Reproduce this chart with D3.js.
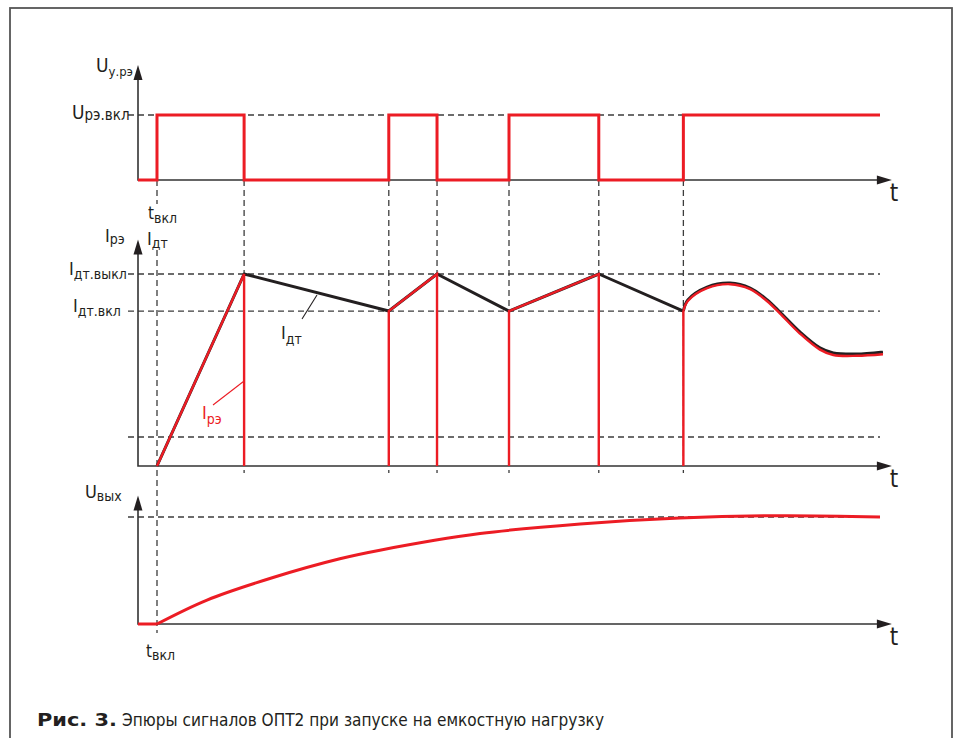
<!DOCTYPE html>
<html>
<head>
<meta charset="utf-8">
<script src="https://cdn.jsdelivr.net/npm/d3@7"></script>
<style>
body { margin: 0; background: #fff; }
text { font-family: "Liberation Sans Narrow", "DejaVu Sans Condensed", "Liberation Sans", sans-serif; fill: #231f20; }
</style>
</head>
<body>
<svg id="chart" width="957" height="738"></svg>
<script>
// relay switching moments (shared time axis, 0..100)
var switchTimes = [2.56, 14.3, 33.8, 40.3, 50.0, 62.1, 73.5];
var relayStates = [1, 0, 1, 0, 1, 0, 1];
var timeEnd = 100;

// current levels: Iдт.выкл, Iдт.вкл, lower dashed level
var currentLevels = [1.0, 0.807, 0.151];

// sensor current Iдт, piecewise part
var idtTime = [2.56, 14.3, 33.8, 40.3, 50.0, 62.1, 73.5];
var idtValue = [0, 1.0, 0.807, 1.0, 0.807, 1.0, 0.807];

// tail after last switch-on (smooth)
var tailTime = [73.5, 74.1, 76.7, 79.8, 82.5, 84.8, 86.5, 89.2, 91.9, 93.7, 96.9, 100.4];
var idtTailValue = [0.807, 0.865, 0.932, 0.953, 0.927, 0.865, 0.802, 0.698, 0.615, 0.589, 0.583, 0.594];
var ireTailValue = [0.807, 0.859, 0.926, 0.947, 0.921, 0.858, 0.795, 0.690, 0.606, 0.578, 0.574, 0.582];

// relay current Iрэ, null = gap
var ireTime = [2.56, 14.3, 14.3, null, 33.8, 33.8, 40.3, 40.3, null, 50.0, 50.0, 62.1, 62.1, null, 73.5, 73.5];
var ireValue = [0, 1.0, 0, null, 0, 0.807, 1.0, 0, null, 0, 0.807, 1.0, 0, null, 0, 0.807];

// output voltage
var uoutTime = [0, 2.56, 9.3, 18.2, 27.2, 32.6, 46.1, 59.6, 73.0, 86.5, 100];
var uoutValue = [0, 0, 0.224, 0.435, 0.61, 0.69, 0.845, 0.935, 0.99, 1.012, 1.0];
var uoutLevel = 1.0;

var RED = "#ec1c24", INK = "#231f20", DASH = "#3c3c3c";

var svg = d3.select("#chart");

// frame
svg.append("rect")
    .attr("x", 10).attr("y", 8)
    .attr("width", 942).attr("height", 760)
    .attr("fill", "none")
    .attr("stroke", "#555")
    .attr("stroke-width", 1.8);

var x = d3.scaleLinear().domain([0, 100]).range([138, 880]);
var y1 = d3.scaleLinear().domain([0, 1]).range([180, 115]);
var y2 = d3.scaleLinear().domain([0, 1]).range([466, 274]);
var y3 = d3.scaleLinear().domain([0, 1]).range([624, 517]);

var dashLine = function(g, x1, y1_, x2, y2_) {
    g.append("line")
        .attr("x1", x1).attr("y1", y1_)
        .attr("x2", x2).attr("y2", y2_)
        .attr("stroke", DASH)
        .attr("stroke-width", 1.3)
        .attr("stroke-dasharray", "6,4");
};

var grid = svg.append("g").attr("class", "grid");

// horizontal dashed levels
dashLine(grid, 128, y1(1), x(100), y1(1));
currentLevels.forEach(function(v) {
    dashLine(grid, 128, y2(v), x(100), y2(v));
});
dashLine(grid, 128, y3(uoutLevel), x(100), y3(uoutLevel));

// vertical dashed at switching moments
switchTimes.forEach(function(t, i) {
    if (i == 0) {
        dashLine(grid, x(t), y1(0), x(t), 204);
        dashLine(grid, x(t), 250, x(t), y3(0) + 9);
    } else {
        dashLine(grid, x(t), y1(0), x(t), y2(0) + 7);
    }
});

// axes with arrows
function axes(yScale, topValue) {
    var g = svg.append("g").attr("class", "axis");
    var x0 = x(0), yb = yScale(0), yt = yScale(topValue), xr = x(101.6);
    g.append("path")
        .attr("d", "M" + x0 + "," + (yt + 10) + "V" + yb + "H" + (xr - 10))
        .attr("fill", "none")
        .attr("stroke", "#333")
        .attr("stroke-width", 1.6);
    g.append("path")
        .attr("d", "M" + x0 + "," + yt + "L" + (x0 - 4.5) + "," + (yt + 15) + "L" + (x0 + 4.5) + "," + (yt + 15) + "Z")
        .attr("fill", INK);
    g.append("path")
        .attr("d", "M" + xr + "," + yb + "L" + (xr - 15) + "," + (yb - 4.5) + "L" + (xr - 15) + "," + (yb + 4.5) + "Z")
        .attr("fill", INK);
    g.append("text")
        .attr("x", xr - 2).attr("y", yb + 21)
        .attr("font-size", 24)
        .text("t");
}
axes(y1, 1.77);
axes(y2, 1.18);
axes(y3, 1.2);

// panel 1: relay control voltage
var relayPts = [[0, 0]];
switchTimes.forEach(function(t, i) {
    relayPts.push([t, 1 - relayStates[i]]);
    relayPts.push([t, relayStates[i]]);
});
relayPts.push([timeEnd, relayStates[relayStates.length - 1]]);

var line1 = d3.line().x(function(d) { return x(d[0]); }).y(function(d) { return y1(d[1]); });
svg.append("path")
    .attr("d", line1(relayPts))
    .attr("fill", "none")
    .attr("stroke", RED)
    .attr("stroke-width", 3);

// panel 2: currents
var line2 = d3.line()
    .defined(function(d) { return d[0] != null; })
    .x(function(d) { return x(d[0]); })
    .y(function(d) { return y2(d[1]); });
var curve2 = d3.line()
    .curve(d3.curveCatmullRom.alpha(0.5))
    .x(function(d) { return x(d[0]); })
    .y(function(d) { return y2(d[1]); });

svg.append("path")
    .attr("d", line2(d3.zip(idtTime, idtValue)))
    .attr("fill", "none")
    .attr("stroke", INK)
    .attr("stroke-width", 3)
    .attr("stroke-linejoin", "round");
svg.append("path")
    .attr("d", curve2(d3.zip(tailTime, idtTailValue)))
    .attr("fill", "none")
    .attr("stroke", INK)
    .attr("stroke-width", 3);

svg.append("path")
    .attr("d", line2(d3.zip(ireTime, ireValue)))
    .attr("fill", "none")
    .attr("stroke", RED)
    .attr("stroke-width", 2.4);
svg.append("path")
    .attr("d", curve2(d3.zip(tailTime, ireTailValue)))
    .attr("fill", "none")
    .attr("stroke", RED)
    .attr("stroke-width", 2.4);

// leader lines
svg.append("line")
    .attr("x1", 302).attr("y1", 319).attr("x2", 317).attr("y2", 295)
    .attr("stroke", INK).attr("stroke-width", 1.1);
svg.append("line")
    .attr("x1", 213).attr("y1", 405).attr("x2", x(14.3)).attr("y2", 381)
    .attr("stroke", RED).attr("stroke-width", 1.1);

// panel 3: output voltage
var uPts = d3.zip(uoutTime, uoutValue);
var line3 = d3.line().x(function(d) { return x(d[0]); }).y(function(d) { return y3(d[1]); });
svg.append("path")
    .attr("d", line3(uPts.slice(0, 2)))
    .attr("fill", "none")
    .attr("stroke", RED)
    .attr("stroke-width", 3);
svg.append("path")
    .attr("d", line3.curve(d3.curveCatmullRom.alpha(0.5))(uPts.slice(1)))
    .attr("fill", "none")
    .attr("stroke", RED)
    .attr("stroke-width", 3);

// labels
function label(px, py, main, sub, opts) {
    opts = opts || {};
    var t = svg.append("text")
        .attr("x", px).attr("y", py)
        .attr("font-size", opts.size || 18)
        .style("fill", opts.color || INK);
    t.append("tspan").text(main);
    t.append("tspan")
        .attr("dy", opts.dy == undefined ? 5 : opts.dy)
        .attr("font-size", opts.subSize || 13)
        .text(sub);
}

label(96, 72, "U", "у.рэ", {size: 19, subSize: 13, dy: 4});
label(72, 119, "U", "рэ.вкл", {size: 19, subSize: 15, dy: 1});
label(148, 219, "t", "вкл", {size: 17, subSize: 14, dy: 4});
label(105, 242, "I", "рэ", {size: 18, subSize: 14, dy: 2});
label(147, 245, "I", "дт", {size: 18, subSize: 14, dy: 3});
label(69, 275, "I", "дт.выкл", {size: 18, subSize: 14, dy: 4});
label(73, 312, "I", "дт.вкл", {size: 18, subSize: 14, dy: 4});
label(281, 339, "I", "дт", {size: 18, subSize: 14, dy: 5});
label(202, 419, "I", "рэ", {size: 18, subSize: 14, dy: 5, color: RED});
label(85, 498, "U", "вых", {size: 18, subSize: 14, dy: 3});
label(146, 657, "t", "вкл", {size: 17, subSize: 14, dy: 3});

// caption
var cap = svg.append("text")
    .attr("x", 37).attr("y", 726)
    .attr("font-size", 18);
cap.append("tspan")
    .attr("font-weight", "bold")
    .attr("textLength", 80)
    .attr("lengthAdjust", "spacingAndGlyphs")
    .text("Рис. 3.");
cap.append("tspan")
    .attr("dx", 5)
    .attr("textLength", 482)
    .attr("lengthAdjust", "spacingAndGlyphs")
    .text("Эпюры сигналов ОПТ2 при запуске на емкостную нагрузку");
</script>
</body>
</html>
